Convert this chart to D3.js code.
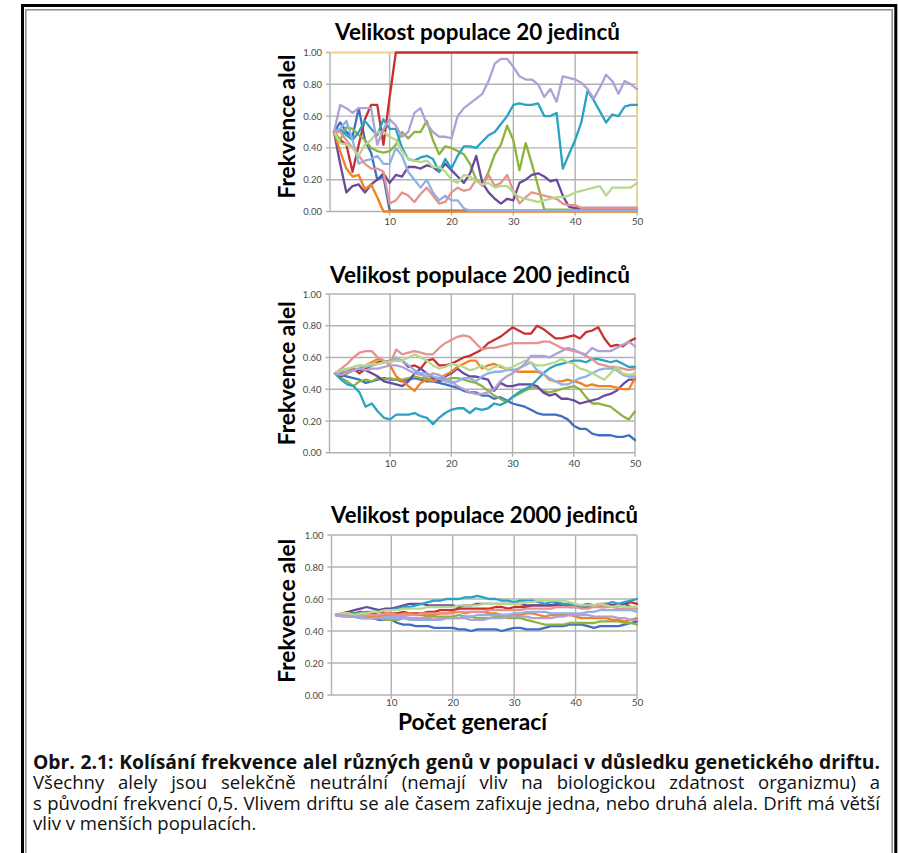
<!DOCTYPE html>
<html>
<head>
<meta charset="utf-8">
<script src="https://cdn.jsdelivr.net/npm/d3@7"></script>
<style>
  html, body { margin: 0; padding: 0; background: #fff; }
  svg { display: block; }
</style>
</head>
<body>
<svg id="chart" width="899" height="853"></svg>
<script>
// ---------------- DATA ----------------
const generations = d3.range(1, 51);
const yTickValues = [0, 0.2, 0.4, 0.6, 0.8, 1.0];
const yTickLabels = ["0.00", "0.20", "0.40", "0.60", "0.80", "1.00"];
const xTickValues = [10, 20, 30, 40, 50];
const chartTitles = ["Velikost populace 20 jedinců", "Velikost populace 200 jedinců", "Velikost populace 2000 jedinců"];
const yAxisTitle = "Frekvence alel";
const xAxisTitle = "Počet generací";
const seriesNames = ["blue", "red", "green", "purple", "cyan", "orange", "lightBlue", "pink", "lightGreen", "lavender"];
const seriesColors = ["#3d6fc4", "#c93030", "#8db33f", "#6a4b9b", "#28a3c2", "#f4811f", "#8fb1e3", "#e69390", "#b8d88c", "#b0a0d4"];

// population 20
const p20Blue = [.5,.56,.5,.47,.65,.45,.37,.2,.22,.006, .006,.006,.006,.006,.006,.006,.006,.006,.006,.006, .006,.006,.006,.006,.006,.006,.006,.006,.006,.006, .006,.006,.006,.006,.006,.006,.006,.006,.006,.006, .006,.006,.006,.006,.006,.006,.006,.006,.006,.006];
const p20Red = [.5,.45,.42,.25,.42,.58,.67,.67,.42,.72, 1,1,1,1,1,1,1,1,1,1, 1,1,1,1,1,1,1,1,1,1, 1,1,1,1,1,1,1,1,1,1, 1,1,1,1,1,1,1,1,1,1];
const p20Green = [.5,.45,.53,.52,.48,.45,.4,.38,.37,.38, .42,.5,.46,.5,.5,.57,.45,.36,.41,.4, .38,.36,.3,.2,.17,.25,.36,.42,.54,.45, .26,.43,.3,.16,.012,.012,.012,.012,.012,.012, .012,.012,.012,.012,.012,.012,.012,.012,.012,.012];
const p20Purple = [.5,.3,.12,.16,.17,.12,.17,.2,.24,.18, .23,.22,.28,.28,.27,.29,.28,.25,.3,.26, .22,.18,.24,.35,.18,.12,.08,.05,.08,.07, .18,.2,.23,.24,.22,.19,.2,.1,.03,.022, .022,.022,.022,.022,.022,.022,.022,.022,.022,.022];
const p20Cyan = [.5,.52,.48,.45,.5,.57,.52,.48,.58,.52, .52,.4,.33,.32,.34,.35,.33,.25,.33,.27, .35,.41,.41,.4,.44,.48,.5,.55,.6,.67, .68,.67,.67,.68,.6,.6,.62,.27,.36,.45, .56,.76,.7,.63,.56,.61,.6,.66,.67,.67];
const p20Orange = [.5,.38,.27,.22,.23,.14,.17,.09,0,0, 0,0,0,0,0,0,0,0,0,0, 0,0,0,0,0,0,0,0,0,0, 0,0,0,0,0,0,0,0,0,0, 0,0,0,0,0,0,0,0,0,0];
const p20LightBlue = [.5,.52,.57,.45,.3,.32,.33,.35,.3,.3, .4,.35,.25,.2,.15,.2,.12,.07,.1,.07, .07,.02,.006,.006,.006,.006,.006,.006,.006,.006, .006,.006,.006,.006,.006,.006,.006,.006,.006,.006, .006,.006,.006,.006,.006,.006,.006,.006,.006,.006];
const p20Pink = [.5,.5,.45,.4,.35,.3,.27,.27,.25,.05, .07,.12,.1,.06,.11,.15,.1,.05,.06,.12, .15,.13,.14,.2,.16,.23,.16,.18,.23,.13, .05,.09,.12,.11,.1,.09,.08,.05,.04,.04, .022,.022,.022,.022,.022,.022,.022,.022,.022,.022];
const p20LightGreen = [.5,.43,.42,.4,.35,.42,.45,.5,.5,.47, .45,.38,.33,.32,.31,.32,.28,.28,.25,.2, .18,.23,.22,.19,.17,.18,.15,.16,.16,.12, .09,.08,.07,.06,.07,.08,.09,.09,.1,.12, .13,.14,.15,.16,.1,.15,.15,.15,.15,.18];
const p20Lavender = [.5,.67,.65,.62,.65,.65,.65,.42,.52,.58, .54,.47,.5,.62,.65,.55,.5,.47,.47,.46, .6,.65,.68,.71,.74,.82,.93,.96,.96,.91, .85,.83,.83,.8,.72,.77,.69,.85,.84,.83, .81,.77,.71,.78,.86,.82,.74,.82,.8,.77];

// population 200
const p200Blue = [.5,.49,.48,.47,.46,.44,.45,.46,.47,.46, .46,.45,.46,.47,.46,.45,.45,.44,.43,.42, .41,.39,.38,.38,.36,.36,.34,.35,.33,.31, .3,.29,.27,.25,.24,.24,.24,.23,.21,.17, .15,.15,.12,.11,.11,.11,.10,.10,.11,.08];
const p200Red = [.5,.5,.52,.53,.5,.53,.55,.57,.57,.58, .58,.58,.54,.55,.53,.58,.59,.55,.55,.56, .58,.6,.61,.63,.65,.69,.71,.73,.76,.79, .77,.75,.75,.8,.78,.75,.72,.72,.73,.74, .72,.76,.77,.79,.72,.67,.68,.67,.7,.72];
const p200Green = [.5,.47,.45,.42,.45,.46,.45,.47,.46,.47, .46,.46,.47,.48,.47,.47,.46,.45,.46,.47, .47,.46,.45,.44,.42,.39,.36,.34,.32,.35, .37,.39,.41,.41,.39,.38,.39,.4,.41,.42, .4,.35,.31,.31,.3,.29,.26,.23,.21,.26];
const p200Purple = [.5,.48,.5,.52,.52,.52,.5,.48,.45,.44, .43,.42,.45,.5,.53,.5,.47,.45,.48,.5, .53,.5,.48,.48,.47,.46,.39,.44,.42,.42, .43,.43,.43,.42,.38,.36,.37,.34,.34,.33, .31,.32,.33,.34,.36,.37,.39,.43,.46,.46];
const p200Cyan = [.5,.46,.43,.42,.38,.29,.31,.26,.22,.21, .24,.24,.24,.25,.23,.22,.18,.22,.25,.27, .28,.28,.25,.28,.27,.28,.31,.3,.32,.35, .38,.4,.42,.46,.5,.53,.55,.56,.57,.58, .58,.57,.59,.59,.58,.57,.58,.56,.54,.54];
const p200Orange = [.5,.52,.5,.52,.53,.55,.57,.59,.58,.55, .48,.45,.42,.39,.44,.46,.45,.47,.49,.51, .54,.56,.58,.58,.53,.55,.56,.54,.53,.52, .51,.51,.51,.51,.5,.46,.45,.45,.46,.45, .44,.42,.43,.42,.42,.42,.41,.4,.4,.47];
const p200LightBlue = [.5,.51,.52,.54,.55,.54,.55,.56,.57,.58, .6,.58,.55,.52,.5,.5,.48,.47,.45,.44, .45,.47,.47,.45,.48,.5,.51,.51,.52,.52, .53,.55,.57,.52,.5,.47,.45,.43,.43,.45, .47,.48,.5,.52,.53,.53,.52,.49,.48,.48];
const p200Pink = [.5,.53,.56,.6,.63,.64,.64,.6,.58,.56, .65,.62,.63,.64,.63,.62,.62,.66,.69,.71, .73,.74,.73,.69,.65,.66,.66,.67,.68,.69, .69,.69,.69,.69,.7,.7,.68,.66,.65,.64, .63,.61,.59,.56,.55,.54,.54,.53,.52,.53];
const p200LightGreen = [.5,.52,.53,.54,.55,.55,.56,.56,.57,.57, .58,.58,.6,.62,.6,.58,.55,.53,.54,.56, .55,.54,.52,.53,.55,.52,.54,.55,.53,.54, .56,.58,.57,.55,.55,.56,.57,.59,.57,.56, .53,.52,.5,.48,.46,.5,.54,.5,.49,.5];
const p200Lavender = [.5,.49,.5,.52,.53,.52,.53,.53,.54,.55, .55,.54,.52,.5,.49,.48,.5,.49,.47,.45, .42,.4,.38,.37,.37,.38,.4,.45,.48,.5, .53,.56,.61,.61,.61,.6,.62,.64,.66,.65, .63,.62,.66,.64,.64,.64,.66,.68,.7,.67];

// population 2000
const p2000Blue = [.5,.5,.49,.49,.48,.48,.48,.47,.47,.47, .45,.44,.44,.43,.43,.43,.42,.42,.42,.42, .41,.41,.4,.41,.41,.41,.41,.4,.41,.42, .42,.41,.41,.41,.42,.43,.43,.43,.44,.44, .44,.43,.42,.43,.43,.43,.43,.44,.45,.46];
const p2000Red = [.5,.5,.51,.51,.52,.51,.51,.52,.51,.51, .51,.52,.51,.51,.51,.52,.52,.53,.53,.53, .54,.54,.54,.54,.54,.54,.55,.55,.54,.55, .55,.55,.56,.56,.56,.56,.56,.56,.56,.56, .56,.56,.56,.57,.57,.56,.57,.57,.58,.57];
const p2000Green = [.5,.5,.5,.49,.49,.49,.48,.48,.47,.47, .47,.48,.48,.48,.48,.49,.49,.49,.49,.49, .5,.49,.49,.48,.48,.48,.49,.49,.48,.48, .48,.47,.46,.45,.44,.44,.44,.44,.45,.45, .45,.45,.45,.46,.46,.46,.46,.45,.45,.44];
const p2000Purple = [.5,.51,.52,.53,.54,.55,.54,.53,.54,.54, .55,.56,.57,.57,.57,.56,.56,.56,.56,.56, .55,.56,.56,.57,.57,.57,.57,.57,.57,.57, .57,.56,.56,.56,.56,.56,.57,.56,.55,.55, .55,.55,.56,.55,.55,.56,.56,.57,.55,.54];
const p2000Cyan = [.5,.5,.51,.51,.51,.52,.52,.52,.53,.53, .54,.55,.55,.56,.57,.58,.59,.59,.6,.6, .6,.61,.61,.62,.61,.6,.6,.59,.59,.58, .59,.59,.59,.58,.57,.58,.58,.57,.57,.56, .56,.57,.56,.56,.57,.58,.57,.58,.59,.6];
const p2000Orange = [.5,.51,.51,.5,.5,.5,.49,.49,.5,.5, .5,.51,.51,.5,.5,.5,.5,.51,.51,.52, .52,.51,.52,.52,.52,.51,.51,.5,.5,.5, .5,.51,.51,.5,.49,.5,.5,.5,.5,.49, .48,.48,.48,.48,.48,.47,.47,.46,.47,.48];
const p2000LightBlue = [.5,.49,.49,.49,.48,.48,.48,.48,.48,.48, .48,.48,.47,.47,.47,.47,.47,.47,.48,.48, .48,.49,.49,.5,.5,.5,.5,.5,.5,.51, .51,.52,.52,.52,.52,.51,.51,.51,.51,.51, .51,.52,.52,.53,.53,.53,.53,.53,.53,.52];
const p2000Pink = [.5,.5,.5,.49,.5,.5,.5,.5,.51,.51, .5,.5,.5,.5,.51,.51,.51,.51,.51,.51, .52,.52,.52,.52,.52,.53,.53,.53,.53,.53, .53,.54,.54,.54,.54,.54,.55,.55,.55,.55, .54,.54,.55,.55,.55,.55,.54,.54,.54,.54];
const p2000LightGreen = [.5,.51,.51,.5,.51,.51,.52,.52,.53,.53, .53,.54,.54,.54,.54,.55,.55,.55,.55,.55, .56,.56,.56,.56,.57,.57,.57,.57,.57,.57, .57,.58,.58,.59,.59,.59,.59,.59,.58,.57, .56,.56,.56,.57,.56,.55,.56,.55,.55,.55];
const p2000Lavender = [.5,.5,.49,.49,.49,.48,.48,.48,.49,.49, .49,.49,.48,.48,.48,.48,.47,.48,.48,.48, .48,.48,.47,.47,.47,.48,.48,.48,.49,.49, .49,.49,.48,.48,.48,.48,.49,.49,.5,.5, .5,.5,.49,.49,.49,.49,.48,.48,.47,.47];

const pop20Series = [p20Blue, p20Red, p20Green, p20Purple, p20Cyan, p20Orange, p20LightBlue, p20Pink, p20LightGreen, p20Lavender];
const pop200Series = [p200Blue, p200Red, p200Green, p200Purple, p200Cyan, p200Orange, p200LightBlue, p200Pink, p200LightGreen, p200Lavender];
const pop2000Series = [p2000Blue, p2000Red, p2000Green, p2000Purple, p2000Cyan, p2000Orange, p2000LightBlue, p2000Pink, p2000LightGreen, p2000Lavender];

const captionLines = [
  "Obr. 2.1: Kolísání frekvence alel různých genů v populaci v důsledku genetického driftu.",
  "Všechny alely jsou selekčně neutrální (nemají vliv na biologickou zdatnost organizmu) a",
  "s původní frekvencí 0,5. Vlivem driftu se ale časem zafixuje jedna, nebo druhá alela. Drift má větší",
  "vliv v menších populacích."
];

// ---------------- LAYOUT ----------------
const layouts = [
  { series: pop20Series, x0: 334, x1: 637, yTop: 52.5, yBot: 211.5, axisX: 330, titleY: 40, titleW: 285, titleCX: 477.5, yTitleCY: 126.5, xLabelY: 221, border: true },
  { series: pop200Series, x0: 335, x1: 635, yTop: 294, yBot: 452.7, axisX: 329.5, titleY: 283.3, titleW: 300, titleCX: 480, yTitleCY: 373.3, xLabelY: 463.3, border: false },
  { series: pop2000Series, x0: 336, x1: 637, yTop: 535, yBot: 695, axisX: 331.5, titleY: 523.3, titleW: 307, titleCX: 484.5, yTitleCY: 610.8, xLabelY: 702.7, border: false }
];
const chartFont = "Lato, 'Liberation Sans', sans-serif";
const captionFont = "'Open Sans', 'Noto Sans', sans-serif";
const gridColor = "#b2b2b2";

const svg = d3.select("#chart");
svg.append("rect").attr("width", 899).attr("height", 853).attr("fill", "#fff");

// frame
svg.append("rect").attr("x", 22.5).attr("y", 5.5).attr("width", 873.3).attr("height", 900)
  .attr("fill", "none").attr("stroke", "#000").attr("stroke-width", 3);
svg.append("rect").attr("x", 25.8).attr("y", 9.8).attr("width", 866.4).attr("height", 900)
  .attr("fill", "none").attr("stroke", "#8a8a8a").attr("stroke-width", 1.5);

function fitFont(sel, target, base) {
  sel.attr("font-size", base);
  const w = sel.node().getComputedTextLength();
  sel.attr("font-size", base * target / w);
}

layouts.forEach((c, ci) => {
  const x = d3.scaleLinear().domain([1, 50]).range([c.x0, c.x1]);
  const y = d3.scaleLinear().domain([0, 1]).range([c.yBot, c.yTop]);
  const g = svg.append("g");

  g.selectAll("line.hgrid").data(yTickValues).join("line")
    .attr("class", "hgrid")
    .attr("x1", c.axisX - 4).attr("x2", c.x1)
    .attr("y1", d => y(d)).attr("y2", d => y(d))
    .attr("stroke", gridColor).attr("stroke-width", 1.4);
  g.selectAll("line.vgrid").data(xTickValues).join("line")
    .attr("class", "vgrid")
    .attr("x1", d => x(d)).attr("x2", d => x(d))
    .attr("y1", c.yTop).attr("y2", c.yBot + 4)
    .attr("stroke", gridColor).attr("stroke-width", 1.4);
  g.append("line").attr("x1", c.axisX).attr("x2", c.axisX).attr("y1", c.yTop).attr("y2", c.yBot)
    .attr("stroke", gridColor).attr("stroke-width", 1.4);

  const yAxis = d3.axisLeft(y).tickValues(yTickValues).tickFormat((d, i) => yTickLabels[i])
    .tickSize(0).tickPadding(8);
  const ya = g.append("g").attr("transform", `translate(${c.axisX},0)`).call(yAxis);
  ya.select(".domain").remove();
  ya.selectAll("text").attr("font-family", chartFont).attr("font-size", 9.5).attr("fill", "#4a4a4a");

  const xAxis = d3.axisBottom(x).tickValues(xTickValues).tickSize(0);
  const xa = g.append("g").attr("transform", `translate(0,${c.yBot})`).call(xAxis);
  xa.select(".domain").remove();
  xa.selectAll("text").attr("y", c.xLabelY - c.yBot).attr("dy", "0.35em")
    .attr("font-family", chartFont).attr("font-size", 10).attr("fill", "#4a4a4a");

  if (c.border) {
    g.append("path")
      .attr("d", `M${c.axisX},${c.yTop}H${c.x1}V${c.yBot}`)
      .attr("fill", "none").attr("stroke", "#efd68a").attr("stroke-width", 1.6);
  }

  const line = d3.line().x((d, i) => x(generations[i])).y(d => y(d)).curve(d3.curveLinear);
  c.series.forEach((vals, si) => {
    g.append("path").datum(vals)
      .attr("d", line)
      .attr("fill", "none")
      .attr("stroke", seriesColors[si])
      .attr("stroke-width", 2.3)
      .attr("stroke-linejoin", "round")
      .attr("stroke-linecap", "round");
  });

  const t = g.append("text").text(chartTitles[ci])
    .attr("x", c.titleCX).attr("y", c.titleY).attr("text-anchor", "middle")
    .attr("font-family", chartFont).attr("font-weight", 700).attr("fill", "#000");
  fitFont(t, c.titleW, 20);

  const yt = g.append("text").text(yAxisTitle)
    .attr("transform", `translate(295,${c.yTitleCY}) rotate(-90)`)
    .attr("text-anchor", "middle")
    .attr("font-family", chartFont).attr("font-weight", 700).attr("fill", "#000");
  fitFont(yt, 144, 20);
});

const xt = svg.append("text").text(xAxisTitle)
  .attr("x", 472.5).attr("y", 730).attr("text-anchor", "middle")
  .attr("font-family", chartFont).attr("font-weight", 700).attr("fill", "#000");
fitFont(xt, 149, 22);

// ---------------- CAPTION ----------------
const capX0 = 33, capX1 = 880;
const capBaselines = [769.3, 789, 809.5, 830];

function lineWidth(text, size, weight) {
  const t = svg.append("text").attr("x", 0).attr("y", -50)
    .attr("font-family", captionFont).attr("font-size", size).attr("font-weight", weight).text(text);
  const w = t.node().getComputedTextLength();
  t.remove();
  return w;
}
const boldSize = 16 * 840 / lineWidth(captionLines[0], 16, 700);
const regSize = 16 * 838 / lineWidth(captionLines[2], 16, 400);

function drawLine(text, y, size, weight, justify) {
  const t = svg.append("text").attr("x", capX0).attr("y", y)
    .attr("font-family", captionFont).attr("font-size", size).attr("font-weight", weight)
    .attr("fill", "#111").text(text);
  if (!justify) return;
  const node = t.node();
  const W = node.getComputedTextLength();
  const words = text.split(" ");
  const starts = [];
  let idx = 0;
  words.forEach(w => { starts.push(idx); idx += w.length + 1; });
  const offs = starts.map(s => s === 0 ? 0 : node.getSubStringLength(0, s));
  const extra = (capX1 - capX0 - W) / (words.length - 1);
  t.text(null);
  words.forEach((w, i) => {
    t.append("tspan").attr("x", capX0 + offs[i] + i * extra).text(w);
  });
}
drawLine(captionLines[0], capBaselines[0], boldSize, 700, true);
drawLine(captionLines[1], capBaselines[1], regSize, 400, true);
drawLine(captionLines[2], capBaselines[2], regSize, 400, true);
drawLine(captionLines[3], capBaselines[3], regSize, 400, false);
</script>
</body>
</html>
